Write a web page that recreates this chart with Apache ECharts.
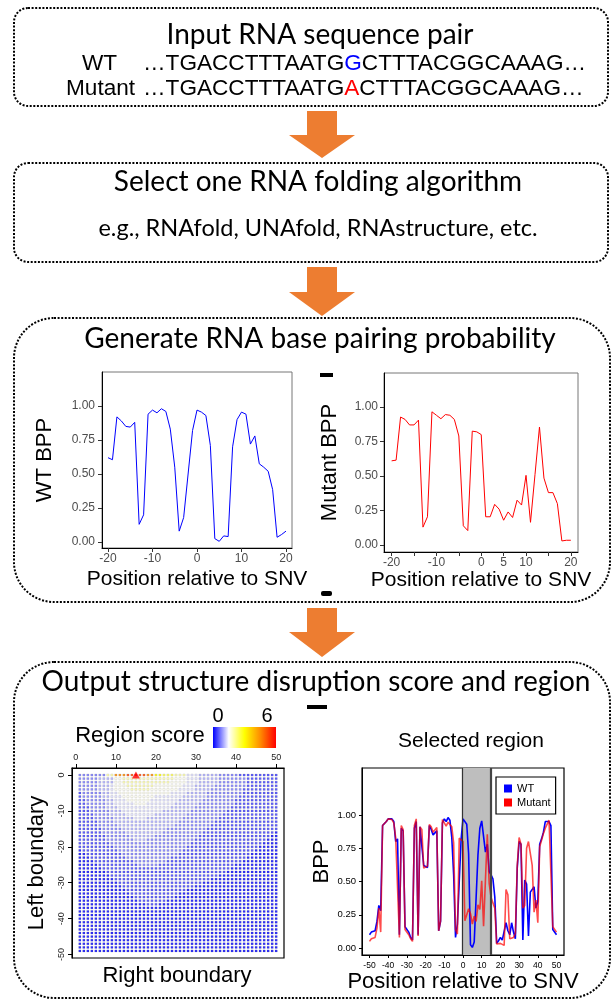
<!DOCTYPE html>
<html><head><meta charset="utf-8">
<script src="https://cdn.jsdelivr.net/npm/echarts@6/dist/echarts.min.js"></script>
<style>html,body{margin:0;padding:0;background:#fff}#c{width:613px;height:1001px}</style>
</head><body><div id="c"></div>
<script>
// ---------------- DATA ----------------
const wtPositions = [-20,-19,-18,-17,-16,-15,-14,-13,-12,-11,-10,-9,-8,-7,-6,-5,-4,-3,-2,-1,0,1,2,3,4,5,6,7,8,9,10,11,12,13,14,15,16,17,18,19,20];
const wtBpp = [0.62,0.605,0.92,0.89,0.85,0.845,0.88,0.13,0.20,0.94,0.97,0.95,0.98,0.96,0.83,0.55,0.08,0.18,0.50,0.82,0.97,0.955,0.93,0.71,0.025,0.005,0.045,0.04,0.70,0.90,0.955,0.94,0.72,0.78,0.575,0.55,0.52,0.385,0.035,0.055,0.08];
const mutantBpp = [0.61,0.615,0.927,0.91,0.87,0.87,0.905,0.13,0.205,0.965,0.94,0.915,0.945,0.94,0.91,0.79,0.14,0.105,0.825,0.82,0.80,0.205,0.205,0.295,0.26,0.18,0.24,0.20,0.325,0.29,0.505,0.165,0.51,0.855,0.485,0.38,0.38,0.30,0.03,0.035,0.035];

const flankLeftPositions = [-50,-49,-48,-47,-46,-45,-44,-43,-42,-41,-40,-39,-38,-37,-36,-35,-34,-33,-32,-31,-30,-29,-28,-27,-26,-25,-24,-23,-22,-21];
const flankRightPositions = [21,22,23,24,25,26,27,28,29,30,31,32,33,34,35,36,37,38,39,40,41,42,43,44,45,46,47,48,49,50];
const wtFlankLeft = [0.10,0.12,0.13,0.13,0.20,0.32,0.28,0.92,0.93,0.95,0.97,0.975,0.97,0.95,0.80,0.82,0.10,0.90,0.88,0.16,0.15,0.12,0.08,0.06,0.90,0.95,0.10,0.91,0.90,0.62];
const wtFlankRight = [0.06,0.05,0.19,0.13,0.10,0.19,0.12,0.07,0.60,0.80,0.78,0.06,0.51,0.48,0.09,0.42,0.42,0.46,0.30,0.35,0.78,0.82,0.87,0.95,0.96,0.95,0.92,0.14,0.14,0.10];
const mutFlankLeft = [0.05,0.07,0.08,0.08,0.15,0.30,0.12,0.92,0.93,0.95,0.97,0.97,0.965,0.94,0.83,0.84,0.08,0.92,0.89,0.14,0.14,0.10,0.07,0.05,0.92,0.97,0.09,0.91,0.89,0.60];
const mutFlankRight = [0.03,0.02,0.44,0.40,0.07,0.07,0.08,0.11,0.62,0.83,0.78,0.30,0.32,0.75,0.80,0.81,0.62,0.27,0.36,0.19,0.76,0.81,0.86,0.90,0.91,0.96,0.96,0.16,0.15,0.12];

const shadedRegion = [-0.6, 14.8];     // selected region edges (left, right)
const bestRegion = [15, 0];             // right boundary, left boundary
const rightBoundaries = [1,2,3,4,5,6,7,8,9,10,11,12,13,14,15,16,17,18,19,20,21,22,23,24,25,26,27,28,29,30,31,32,33,34,35,36,37,38,39,40,41,42,43,44,45,46,47,48,49,50];
const leftBoundaries = [0,-1,-2,-3,-4,-5,-6,-7,-8,-9,-10,-11,-12,-13,-14,-15,-16,-17,-18,-19,-20,-21,-22,-23,-24,-25,-26,-27,-28,-29,-30,-31,-32,-33,-34,-35,-36,-37,-38,-39,-40,-41,-42,-43,-44,-45,-46,-47,-48,-49];
// region score levels: one code per cell, row per left boundary, column per right boundary
const scoreLevels = { '0': 0, '1': 0.35, '2': 0.7, '3': 1.0, '4': 1.3, '5': 1.6, '6': 2.0, '7': 2.5, '8': 3.0, '9': 3.8, 'a': 4.5, 'b': 5.2, 'c': 6.0 };
const regionScoreRows = [
"222222266a aabbcbbaa8 8777666444 3333322222 1111111111",
"2222233335 5666666666 6666555444 3333322222 2211111111",
"2222233335 5666666666 6665555444 3333322222 2211111111",
"2222233345 5566666665 5555554443 3333222222 2211111111",
"2222233345 5556666655 5555544443 3332222222 2111111111",
"1222223344 5555555555 5554444333 3322222222 2111111111",
"1222223344 4555555554 4444443333 3322222222 1111111111",
"1122222334 4455555544 4444433333 3222222221 1111111111",
"1122222334 4444555444 4444333333 2222222221 1111111111",
"1112222333 4444444444 4443333332 2222222211 1111111111",
"1112222233 3444444444 4333333322 2222222111 1111111111",
"1111222233 3344444443 3333333222 2222221111 1111111111",
"1111222223 3333444333 3333332222 2222211111 1111111111",
"1111122223 3333333333 3333322222 2222111111 1111111111",
"1111122222 3333333333 3333222222 2221111111 1111111111",
"1111112222 2333333333 3322222222 2211111111 1111111111",
"1111112222 2233333333 3222222222 2111111111 1111111110",
"1111111222 2223333332 2222222222 1111111111 1111111100",
"1111111222 2222333222 2222222221 1111111111 1111111000",
"1111111122 2222222222 2222222211 1111111111 1111110000",
"1111111112 2222222222 2222222111 1111111111 1111100000",
"0111111111 2222222222 2222221111 1111111111 1111000000",
"0011111111 1222222222 2222211111 1111111111 1110000000",
"0001111111 1122222222 2221111111 1111111111 1100000000",
"0000111111 1111222222 2211111111 1111111111 1000000000",
"0000011111 1111122222 1111111111 1111111110 0000000000",
"0000001111 1111111111 1111111111 1111111100 0000000000",
"0000000111 1111111111 1111111111 1111111000 0000000000",
"0000000011 1111111111 1111111111 1111100000 0000000000",
"0000000001 1111111111 1111111111 1110000000 0000000000",
"0000000000 1111111111 1111111111 1000000000 0000000000",
"0000000000 0111111111 1111111110 0000000000 0000000000",
"0000000000 0011111111 1111111000 0000000000 0000000000",
"0000000000 0001111111 1111100000 0000000000 0000000000",
"0000000000 0000111111 1111000000 0000000000 0000000000",
"0000000000 0000011111 1100000000 0000000000 0000000000",
"0000000000 0000000111 0000000000 0000000000 0000000000",
"0000000000 0000000000 0000000000 0000000000 0000000000",
"0000000000 0000000000 0000000000 0000000000 0000000000",
"0000000000 0000000000 0000000000 0000000000 0000000000",
"0000000000 0000000000 0000000000 0000000000 0000000000",
"0000000000 0000000000 0000000000 0000000000 0000000000",
"0000000000 0000000000 0000000000 0000000000 0000000000",
"0000000000 0000000000 0000000000 0000000000 0000000000",
"0000000000 0000000000 0000000000 0000000000 0000000000",
"0000000000 0000000000 0000000000 0000000000 0000000000",
"0000000000 0000000000 0000000000 0000000000 0000000000",
"0000000000 0000000000 0000000000 0000000000 0000000000",
"0000000000 0000000000 0000000000 0000000000 0000000000",
"0000000000 0000000000 0000000000 0000000000 0000000000"
];
const scoreColors = ['#0000ff', '#ffffff', '#ffff00', '#ff8c00', '#ff0000'];
const scoreRange = [0, 6];

// ---------------- BUILD ----------------
const pairs = (xs, ys) => xs.map((x, i) => [x, ys[i]]);
const selPositions = flankLeftPositions.concat(wtPositions, flankRightPositions);
const selWt = wtFlankLeft.concat(wtBpp, wtFlankRight);
const selMut = mutFlankLeft.concat(mutantBpp, mutFlankRight);
const heat = [];
leftBoundaries.forEach((lb, ri) => {
  const row = regionScoreRows[ri].replace(/ /g, '');
  rightBoundaries.forEach((rb, ci) => {
    heat.push([rb, lb, scoreLevels[row[ci]]]);
  });
});

const TF = 'Lato';
const AF = 'Liberation Sans';
const txt = (x, y, text, size, font, extra) => Object.assign({
  type: 'text', x: x, y: y, z: 50,
  style: Object.assign({ text: text, fill: '#000', fontSize: size, fontFamily: font, align: 'center', verticalAlign: 'middle' }, (extra && extra.style) || {})
}, extra && extra.rotation !== undefined ? { rotation: extra.rotation } : {});
const box = (x, y, w, h, r) => ({ type: 'rect', z: 1, shape: { x: x, y: y, width: w, height: h, r: r },
  style: { fill: 'none', stroke: '#000', lineWidth: 2, lineDash: [2, 1.6] } });
const arrow = (cx, y0, y1, y2) => ({ type: 'polygon', z: 2, shape: { points: [
  [cx - 15, y0], [cx + 15, y0], [cx + 15, y1], [cx + 33, y1], [cx, y2], [cx - 33, y1], [cx - 15, y1]] },
  style: { fill: '#ED7D31' } });
const SEQ = 22.6;
const seqRich = { fontSize: SEQ, fontFamily: AF };

const gradStops = scoreColors.map((c, i) => ({ offset: i / (scoreColors.length - 1), color: c }));

const graphics = [
  box(14, 8, 594, 98, 14),
  txt(320, 35, 'Input RNA sequence pair', 28, TF),
  txt(82, 64, 'WT', SEQ, AF, { style: { align: 'left' } }),
  { type: 'text', x: 143, y: 64, z: 50, style: { text: '…TGACCTTTAATG{b|G}CTTTACGGCAAAG…', fontSize: SEQ, fontFamily: AF, fill: '#000', align: 'left', verticalAlign: 'middle',
    rich: { b: Object.assign({ fill: '#0000ff' }, seqRich) } } },
  txt(66, 89, 'Mutant', SEQ, AF, { style: { align: 'left' } }),
  { type: 'text', x: 143, y: 89, z: 50, style: { text: '…TGACCTTTAATG{r|A}CTTTACGGCAAAG…', fontSize: SEQ, fontFamily: AF, fill: '#000', align: 'left', verticalAlign: 'middle',
    rich: { r: Object.assign({ fill: '#ff0000' }, seqRich) } } },
  arrow(322, 111, 135, 158),
  box(14, 163, 594, 99, 14),
  txt(318, 182, 'Select one RNA folding algorithm', 28, TF),
  txt(318, 228, 'e.g., RNAfold, UNAfold, RNAstructure, etc.', 23.5, TF),
  arrow(322, 267, 292, 316),
  box(14, 318, 596, 284, 40),
  txt(320, 339, 'Generate RNA base pairing probability', 28, TF),
  { type: 'rect', z: 50, shape: { x: 320, y: 373, width: 13, height: 4 }, style: { fill: '#000' } },
  { type: 'rect', z: 50, shape: { x: 321, y: 591, width: 11, height: 5, r: 2 }, style: { fill: '#000' } },
  arrow(322, 608, 632, 657),
  box(14, 662, 596, 336, 40),
  txt(316, 682, 'Output structure disruption score and region', 28, TF),
  { type: 'rect', z: 50, shape: { x: 307, y: 705, width: 20, height: 4 }, style: { fill: '#000' } },
  txt(140, 736, 'Region score', 22, AF),
  { type: 'rect', z: 50, shape: { x: 213, y: 727, width: 63, height: 21 },
    style: { fill: new echarts.graphic.LinearGradient(0, 0, 1, 0, gradStops) } },
  txt(218, 716, String(scoreRange[0]), 20, AF),
  txt(267, 716, String(scoreRange[1]), 20, AF),
  txt(177, 976, 'Right boundary', 22, AF),
  txt(471, 741, 'Selected region', 21, AF)
];

const gridBase = { containLabel: false, outerBoundsMode: 'none' };
const ggAxisLabel = { color: '#4d4d4d', fontSize: 12, fontFamily: AF };
const fmt2 = v => v.toFixed(2);

const option = {
  animation: false,
  backgroundColor: '#fff',
  grid: [
    Object.assign({ left: 102, top: 372, width: 190, height: 176, show: true, borderColor: '#777', borderWidth: 1 }, gridBase),
    Object.assign({ left: 384, top: 373, width: 194, height: 179, show: true, borderColor: '#777', borderWidth: 1 }, gridBase),
    Object.assign({ left: 72, top: 768, width: 212, height: 190, show: true, borderColor: '#000', borderWidth: 1.2 }, gridBase),
    Object.assign({ left: 362, top: 768, width: 202, height: 187, show: true, borderColor: '#000', borderWidth: 1.2 }, gridBase)
  ],
  xAxis: [
    { gridIndex: 0, type: 'value', min: -21.35, max: 21.35, splitLine: { show: false },
      axisLine: { show: true, onZero: false, lineStyle: { color: '#000', width: 1 } },
      axisTick: { show: true, length: 4, lineStyle: { color: '#333' }, customValues: [-20, -10, 0, 10, 20] },
      axisLabel: Object.assign({ margin: 5, customValues: [-20, -10, 0, 10, 20] }, ggAxisLabel),
      name: 'Position relative to SNV', nameLocation: 'middle', nameGap: 21,
      nameTextStyle: { fontSize: 21, fontFamily: AF, color: '#000' } },
    { gridIndex: 1, type: 'value', min: -21.7, max: 21.6, splitLine: { show: false },
      axisLine: { show: true, onZero: false, lineStyle: { color: '#000', width: 1 } },
      axisTick: { show: true, length: 4, lineStyle: { color: '#333' }, customValues: [-20, -15, -10, -5, 0, 5, 10, 15, 20] },
      axisLabel: Object.assign({ margin: 5, customValues: [-20, -10, 0, 5, 10, 20] }, ggAxisLabel),
      name: 'Position relative to SNV', nameLocation: 'middle', nameGap: 16,
      nameTextStyle: { fontSize: 21, fontFamily: AF, color: '#000' } },
    { gridIndex: 2, type: 'value', position: 'top', min: -0.96, max: 51.96, splitLine: { show: false },
      axisLine: { show: true, onZero: false, lineStyle: { color: '#000', width: 1 } },
      axisTick: { show: true, length: 4, lineStyle: { color: '#000' }, customValues: [0, 10, 20, 30, 40, 50] },
      axisLabel: { margin: 6, fontSize: 9, color: '#222', fontFamily: AF, customValues: [0, 10, 20, 30, 40, 50] } },
    { gridIndex: 3, type: 'value', min: -54, max: 54, splitLine: { show: false },
      axisLine: { show: true, onZero: false, lineStyle: { color: '#000', width: 1 } },
      axisTick: { show: true, length: 3, lineStyle: { color: '#000' }, customValues: [-50, -40, -30, -20, -10, 0, 10, 20, 30, 40, 50] },
      axisLabel: { margin: 6, fontSize: 8.5, color: '#000', fontFamily: AF, customValues: [-50, -40, -30, -20, -10, 0, 10, 20, 30, 40, 50] },
      name: 'Position relative to SNV', nameLocation: 'middle', nameGap: 12,
      nameTextStyle: { fontSize: 22, fontFamily: AF, color: '#000' } }
  ],
  yAxis: [
    { gridIndex: 0, type: 'value', min: -0.044, max: 1.25, splitLine: { show: false },
      axisLine: { show: true, onZero: false, lineStyle: { color: '#000', width: 1 } },
      axisTick: { show: true, length: 4, lineStyle: { color: '#333' }, customValues: [0, 0.25, 0.5, 0.75, 1] },
      axisLabel: Object.assign({ margin: 7, formatter: fmt2, customValues: [0, 0.25, 0.5, 0.75, 1] }, ggAxisLabel),
      name: 'WT BPP', nameLocation: 'middle', nameGap: 46,
      nameTextStyle: { fontSize: 22, fontFamily: AF, color: '#000' } },
    { gridIndex: 1, type: 'value', min: -0.05, max: 1.246, splitLine: { show: false },
      axisLine: { show: true, onZero: false, lineStyle: { color: '#000', width: 1 } },
      axisTick: { show: true, length: 4, lineStyle: { color: '#333' }, customValues: [0, 0.25, 0.5, 0.75, 1] },
      axisLabel: Object.assign({ margin: 6, formatter: fmt2, customValues: [0, 0.25, 0.5, 0.75, 1] }, ggAxisLabel),
      name: 'Mutant BPP', nameLocation: 'middle', nameGap: 43,
      nameTextStyle: { fontSize: 22, fontFamily: AF, color: '#000' } },
    { gridIndex: 2, type: 'value', min: -50.96, max: 1.96, splitLine: { show: false },
      axisLine: { show: true, onZero: false, lineStyle: { color: '#000', width: 1 } },
      axisTick: { show: true, length: 4, lineStyle: { color: '#000' }, customValues: [0, -10, -20, -30, -40, -50] },
      axisLabel: { margin: 6, fontSize: 9, color: '#222', fontFamily: AF, rotate: 90, customValues: [0, -10, -20, -30, -40, -50] },
      name: 'Left boundary', nameLocation: 'middle', nameGap: 24,
      nameTextStyle: { fontSize: 22, fontFamily: AF, color: '#000' } },
    { gridIndex: 3, type: 'value', min: -0.052, max: 1.352, splitLine: { show: false },
      axisLine: { show: true, onZero: false, lineStyle: { color: '#000', width: 1 } },
      axisTick: { show: true, length: 3, lineStyle: { color: '#000' }, customValues: [0, 0.25, 0.5, 0.75, 1] },
      axisLabel: { margin: 6, fontSize: 9.5, color: '#000', fontFamily: AF, formatter: fmt2, customValues: [0, 0.25, 0.5, 0.75, 1] },
      name: 'BPP', nameLocation: 'middle', nameGap: 29,
      nameTextStyle: { fontSize: 22, fontFamily: AF, color: '#000' } }
  ],
  visualMap: {
    show: false, type: 'continuous', seriesIndex: 2, dimension: 2,
    min: scoreRange[0], max: scoreRange[1], inRange: { color: scoreColors }
  },
  legend: {
    left: 496, top: 777, orient: 'vertical', data: ['WT', 'Mutant'], icon: 'rect',
    itemWidth: 8, itemHeight: 8, itemGap: 3, padding: [6, 5, 6, 8],
    borderColor: '#000', borderWidth: 1.2, backgroundColor: '#fff',
    textStyle: { fontSize: 11, fontFamily: AF, color: '#000' }
  },
  series: [
    { type: 'line', xAxisIndex: 0, yAxisIndex: 0, data: pairs(wtPositions, wtBpp), showSymbol: false,
      lineStyle: { color: '#0000ff', width: 1 }, itemStyle: { color: '#0000ff' } },
    { type: 'line', xAxisIndex: 1, yAxisIndex: 1, data: pairs(wtPositions, mutantBpp), showSymbol: false,
      lineStyle: { color: '#ff0000', width: 1 }, itemStyle: { color: '#ff0000' } },
    { type: 'scatter', xAxisIndex: 2, yAxisIndex: 2, data: heat, symbol: 'rect', symbolSize: [2.3, 2.1],
      silent: true, large: false, itemStyle: { borderColor: 'rgba(0,0,0,0.3)', borderWidth: 0.4 } },
    { type: 'scatter', xAxisIndex: 2, yAxisIndex: 2, data: [bestRegion], symbol: 'triangle', symbolSize: [8, 7],
      itemStyle: { color: '#ff0000' }, z: 5 },
    { type: 'line', xAxisIndex: 3, yAxisIndex: 3, data: [], z: 1,
      markArea: { silent: true, itemStyle: { color: '#bebebe' }, data: [[{ xAxis: shadedRegion[0] }, { xAxis: shadedRegion[1] }]] },
      markLine: { silent: true, symbol: 'none', label: { show: false },
        data: [{ xAxis: shadedRegion[0], lineStyle: { color: '#333', width: 1.2, type: 'solid' } },
               { xAxis: shadedRegion[1], lineStyle: { color: '#444', width: 2.2, type: 'solid' } }] } },
    { name: 'WT', type: 'line', xAxisIndex: 3, yAxisIndex: 3, data: pairs(selPositions, selWt), showSymbol: false, z: 3,
      lineStyle: { color: '#0000ff', width: 1.6 }, itemStyle: { color: '#0000ff' } },
    { name: 'Mutant', type: 'line', xAxisIndex: 3, yAxisIndex: 3, data: pairs(selPositions, selMut), showSymbol: false, z: 4,
      lineStyle: { color: '#ff0000', width: 1.6, opacity: 0.7 }, itemStyle: { color: '#ff0000' } }
  ],
  graphic: graphics
};
const chart = echarts.init(document.getElementById('c'), null, { renderer: 'canvas' });
chart.setOption(option);
</script></body></html>
